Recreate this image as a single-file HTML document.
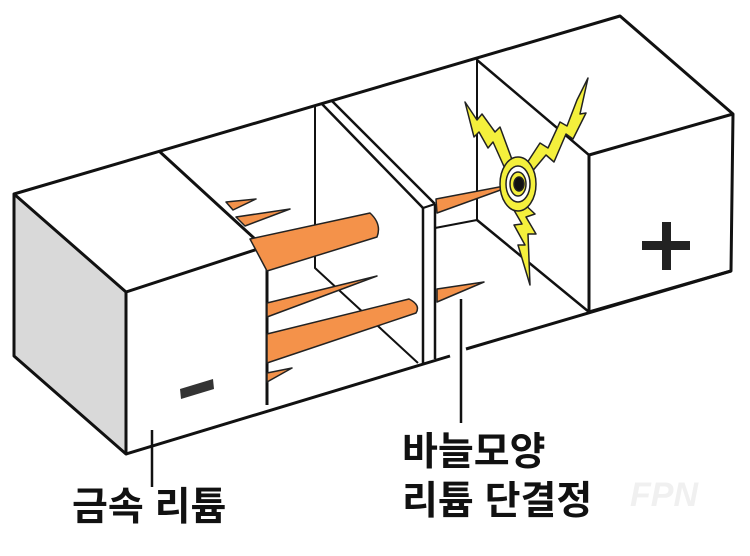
<!DOCTYPE html>
<html><head><meta charset="utf-8"><style>
html,body{margin:0;padding:0;background:#fff;}
svg{display:block}
text{font-family:"Liberation Sans","Noto Sans CJK KR",sans-serif;font-weight:bold;fill:#111}
</style></head><body>
<svg width="750" height="556" viewBox="0 0 750 556" xmlns="http://www.w3.org/2000/svg">
<g stroke="#111" stroke-width="3" stroke-linejoin="round" fill="none">
<polygon points="14,194 126,292 126,454 14,356" fill="#d9d9d9"/>
<polyline points="14,194 620,16 733,114 731,271 466,349"/>
<polyline points="450,356 126,454"/>
<polyline points="126,292 267,246 267,405"/>
<line x1="159" y1="151" x2="267" y2="250"/>
<polyline points="315,106 315,268 418,363" stroke-width="2"/>
<line x1="322" y1="104" x2="423" y2="208" stroke-width="2.5"/>
<line x1="332" y1="101" x2="435" y2="204" stroke-width="2.5"/>
<line x1="423" y1="208" x2="435" y2="204" stroke-width="2"/>
<line x1="423" y1="208" x2="423" y2="363" stroke-width="2.5"/>
<line x1="435" y1="204" x2="435" y2="359" stroke-width="2.5"/>
<line x1="477" y1="58" x2="477" y2="220" stroke-width="2"/>
<line x1="435" y1="228" x2="477" y2="220" stroke-width="2"/>
<line x1="477" y1="60" x2="589" y2="155" stroke-width="2.5"/>
<line x1="477" y1="220" x2="589" y2="312" stroke-width="2.5"/>
<polyline points="733,114 589,155 589,312 731,271"/>
</g>
<g fill="#f4924a" stroke="#222" stroke-width="1.5" stroke-linejoin="round">
<polygon points="226,202 233,210 256,199"/>
<polygon points="236,217 245,226 290,209"/>
<path d="M250,239 L370,213 Q382,224 377,237 L267,271 Z"/>
<polygon points="267,303 267,317 377,276"/>
<path d="M267,334 L409,299 Q421,305 416,313 L267,363 Z"/>
<polygon points="267,373 267,382 292,368"/>
<polygon points="436,199 437,213 520,183"/>
<polygon points="437,289 437,302 484,282"/>
</g>
<g fill="#f4f03c" stroke="#222" stroke-width="1.5" stroke-linejoin="round">
<polygon points="588,78 580,114 586,113 573,139 566,134 554,162 546,155 530,174 525,166 540,143 548,148 560,122 567,126 577,100"/>
<polygon points="465,102 477,120 482,114 495,132 500,127 514,165 506,171 493,142 488,148 479,132 474,137"/>
<polygon points="520,200 535,214 526,217 536,234 528,234 530,285 518,245 525,245 514,225 522,224 511,205"/>
<ellipse cx="518" cy="184" rx="18" ry="27"/>
<ellipse cx="518" cy="184" rx="12" ry="18" fill="#fff"/>
<ellipse cx="518" cy="184" rx="8" ry="12"/>
<ellipse cx="519" cy="184" rx="5" ry="7" fill="#111"/>
</g>
<polygon points="180,389 213,379 214,389 181,399" fill="#333"/>
<rect x="662" y="222" width="9" height="48" fill="#222"/>
<rect x="642" y="241" width="48" height="9" fill="#222"/>
<line x1="152" y1="430" x2="152" y2="487" stroke="#111" stroke-width="2.5"/>
<line x1="461" y1="299" x2="461" y2="423" stroke="#111" stroke-width="2.5"/>
<text x="72" y="520" font-size="39">금속 리튬</text>
<text x="402" y="465" font-size="39">바늘모양</text>
<text x="402" y="514" font-size="39">리튬 단결정</text>
<text x="630" y="506" font-size="34" font-style="italic" style="fill:#f0f0f0">FPN</text>
</svg>
</body></html>
